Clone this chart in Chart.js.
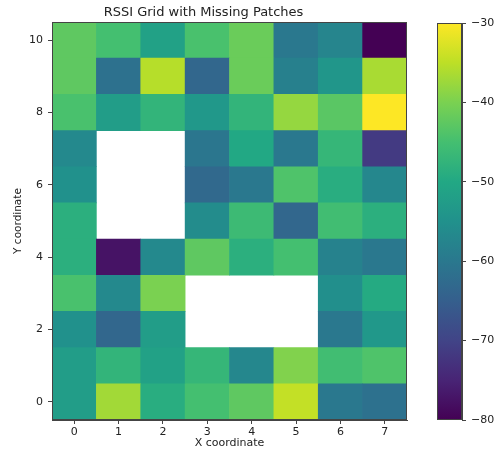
<!DOCTYPE html>
<html lang="en">
<head>
    <meta charset="UTF-8">
    <title>RSSI Grid with Missing Patches</title>
    <script src="https://cdn.jsdelivr.net/npm/chart.js@4.4.1/dist/chart.umd.min.js"></script>
    <style>
        html, body { margin: 0; padding: 0; background: #fff; }
        #wrap { position: relative; width: 496px; height: 451px; }
        #gridBox { position: absolute; left: 0; top: 0; width: 410px; height: 451px; }
        #barBox { position: absolute; left: 420px; top: 0; width: 76px; height: 451px; }
    </style>
</head>
<body>
    <div id="wrap">
        <div id="gridBox"><canvas id="gridChart"></canvas></div>
        <div id="barBox"><canvas id="colorbar"></canvas></div>
    </div>

    <script>
        // RSSI readings (dBm), one array per y row, x = 0..7, null = missing patch
        const xLabels = ['0', '1', '2', '3', '4', '5', '6', '7'];
        const yTicks = [0, 2, 4, 6, 8, 10];
        const rssiY0  = [-52.5, -37, -49, -45, -42.5, -34.5, -60, -61.5];
        const rssiY1  = [-52.5, -47.5, -51.5, -47, -57, -39.5, -45.5, -44];
        const rssiY2  = [-55, -63.5, -52.5, null, null, null, -60, -53.5];
        const rssiY3  = [-44.5, -56.5, -40, null, null, null, -55.5, -49.5];
        const rssiY4  = [-48.5, -77.5, -56.5, -42.5, -48.5, -45, -58, -60];
        const rssiY5  = [-48.5, null, null, -56, -46, -63.5, -45.5, -48.5];
        const rssiY6  = [-55, null, null, -63, -60, -44, -49, -57];
        const rssiY7  = [-56.5, null, null, -60.5, -50, -60, -47, -71.5];
        const rssiY8  = [-44.5, -52.5, -47.5, -53.5, -47.5, -38, -43, -30];
        const rssiY9  = [-42.5, -61.5, -35.5, -63.5, -41.5, -58.5, -54, -36.5];
        const rssiY10 = [-42.5, -45, -51.5, -44.5, -41.5, -60, -57.5, -80];
        const rssiRows = [rssiY0, rssiY1, rssiY2, rssiY3, rssiY4, rssiY5,
                          rssiY6, rssiY7, rssiY8, rssiY9, rssiY10];
        const vmin = -80, vmax = -30;
        const cbTicks = [-80, -70, -60, -50, -40, -30];

        // viridis colormap stops
        const viridisStops = ['#440154', '#482475', '#414487', '#355f8d', '#2a788e', '#21918c',
                              '#22a884', '#44bf70', '#7ad151', '#bddf26', '#fde725'];

        function hexToRgb(h) {
            return [parseInt(h.slice(1, 3), 16), parseInt(h.slice(3, 5), 16), parseInt(h.slice(5, 7), 16)];
        }
        function viridis(v) {
            let t = (v - vmin) / (vmax - vmin);
            t = Math.max(0, Math.min(1, t));
            const p = t * (viridisStops.length - 1);
            const i = Math.min(Math.floor(p), viridisStops.length - 2);
            const f = p - i;
            const a = hexToRgb(viridisStops[i]), b = hexToRgb(viridisStops[i + 1]);
            const c = a.map((x, k) => Math.round(x + (b[k] - x) * f));
            return `rgb(${c[0]}, ${c[1]}, ${c[2]})`;
        }

        const tickFont = { family: 'DejaVu Sans', size: 11 };
        const textColor = '#222';
        const spineColor = '#444';
        const minusSign = v => (v < 0 ? '\u2212' + Math.abs(v) : String(v));

        // frame around the plot area (matplotlib spines)
        const frame = {
            id: 'frame',
            afterDatasetsDraw(chart) {
                const a = chart.chartArea, ctx = chart.ctx;
                ctx.save();
                ctx.strokeStyle = spineColor;
                ctx.lineWidth = 1;
                ctx.strokeRect(a.left + 0.5, a.top + 0.5, a.right - a.left - 1, a.bottom - a.top - 1);
                ctx.restore();
            }
        };

        // one floating-bar dataset per row, all overlapping on the same x slots
        const datasets = rssiRows.map((row, y) => ({
            label: 'y=' + y,
            data: row.map(v => (v === null ? null : [y - 0.5, y + 0.5])),
            backgroundColor: row.map(v => (v === null ? 'rgba(0,0,0,0)' : viridis(v))),
            borderWidth: 0,
            grouped: false,
            barPercentage: 1,
            categoryPercentage: 1
        }));

        new Chart(document.getElementById('gridChart'), {
            type: 'bar',
            data: { labels: xLabels, datasets: datasets },
            options: {
                responsive: true,
                maintainAspectRatio: false,
                animation: false,
                layout: { padding: { left: 0, right: 3, top: 0, bottom: 0 } },
                plugins: {
                    legend: { display: false },
                    tooltip: { enabled: false },
                    title: {
                        display: true,
                        text: 'RSSI Grid with Missing Patches',
                        color: textColor,
                        font: { family: 'DejaVu Sans', size: 13, weight: 'normal' },
                        padding: { top: 5, bottom: 1.4 }
                    }
                },
                scales: {
                    x: {
                        type: 'category',
                        offset: true,
                        grid: { display: true, drawOnChartArea: false, offset: false, tickLength: 4, color: spineColor },
                        border: { display: true, color: spineColor },
                        ticks: { color: textColor, font: tickFont, padding: 2, maxRotation: 0 },
                        title: { display: true, text: 'X coordinate', color: textColor, font: tickFont, padding: { top: 0, bottom: 1 } },
                        afterFit: s => { s.height = 31; }
                    },
                    y: {
                        type: 'linear',
                        min: -0.5,
                        max: 10.5,
                        afterBuildTicks: s => { s.ticks = yTicks.map(v => ({ value: v })); },
                        grid: { display: true, drawOnChartArea: false, tickLength: 4, color: spineColor },
                        border: { display: true, color: spineColor },
                        ticks: { color: textColor, font: tickFont, padding: 5 },
                        title: { display: true, text: 'Y coordinate', color: textColor, font: { family: 'DejaVu Sans', size: 10.5 }, padding: { top: 12, bottom: 0 } },
                        afterFit: s => { s.width = 52; }
                    }
                }
            },
            plugins: [frame]
        });

        // colorbar: a single floating bar from vmin to vmax filled with the colormap
        new Chart(document.getElementById('colorbar'), {
            type: 'bar',
            data: {
                labels: [''],
                datasets: [{
                    data: [[vmin, vmax]],
                    backgroundColor: ctx => {
                        const area = ctx.chart.chartArea;
                        if (!area) return viridisStops[5];
                        const g = ctx.chart.ctx.createLinearGradient(0, area.bottom, 0, area.top);
                        viridisStops.forEach((c, i) => g.addColorStop(i / (viridisStops.length - 1), c));
                        return g;
                    },
                    borderWidth: 0,
                    barPercentage: 1,
                    categoryPercentage: 1
                }]
            },
            options: {
                responsive: true,
                maintainAspectRatio: false,
                animation: false,
                layout: { padding: { left: 17, right: 0, top: 23, bottom: 31 } },
                plugins: { legend: { display: false }, tooltip: { enabled: false } },
                scales: {
                    x: { display: false },
                    y: {
                        position: 'right',
                        min: vmin,
                        max: vmax,
                        afterBuildTicks: s => { s.ticks = cbTicks.map(v => ({ value: v })); },
                        grid: { display: true, drawOnChartArea: false, tickLength: 4, color: spineColor },
                        border: { display: true, color: spineColor },
                        ticks: { color: textColor, font: tickFont, padding: 5, callback: v => minusSign(v) },
                        afterFit: s => { s.width = 34; }
                    }
                }
            },
            plugins: [frame]
        });
    </script>
</body>
</html>
